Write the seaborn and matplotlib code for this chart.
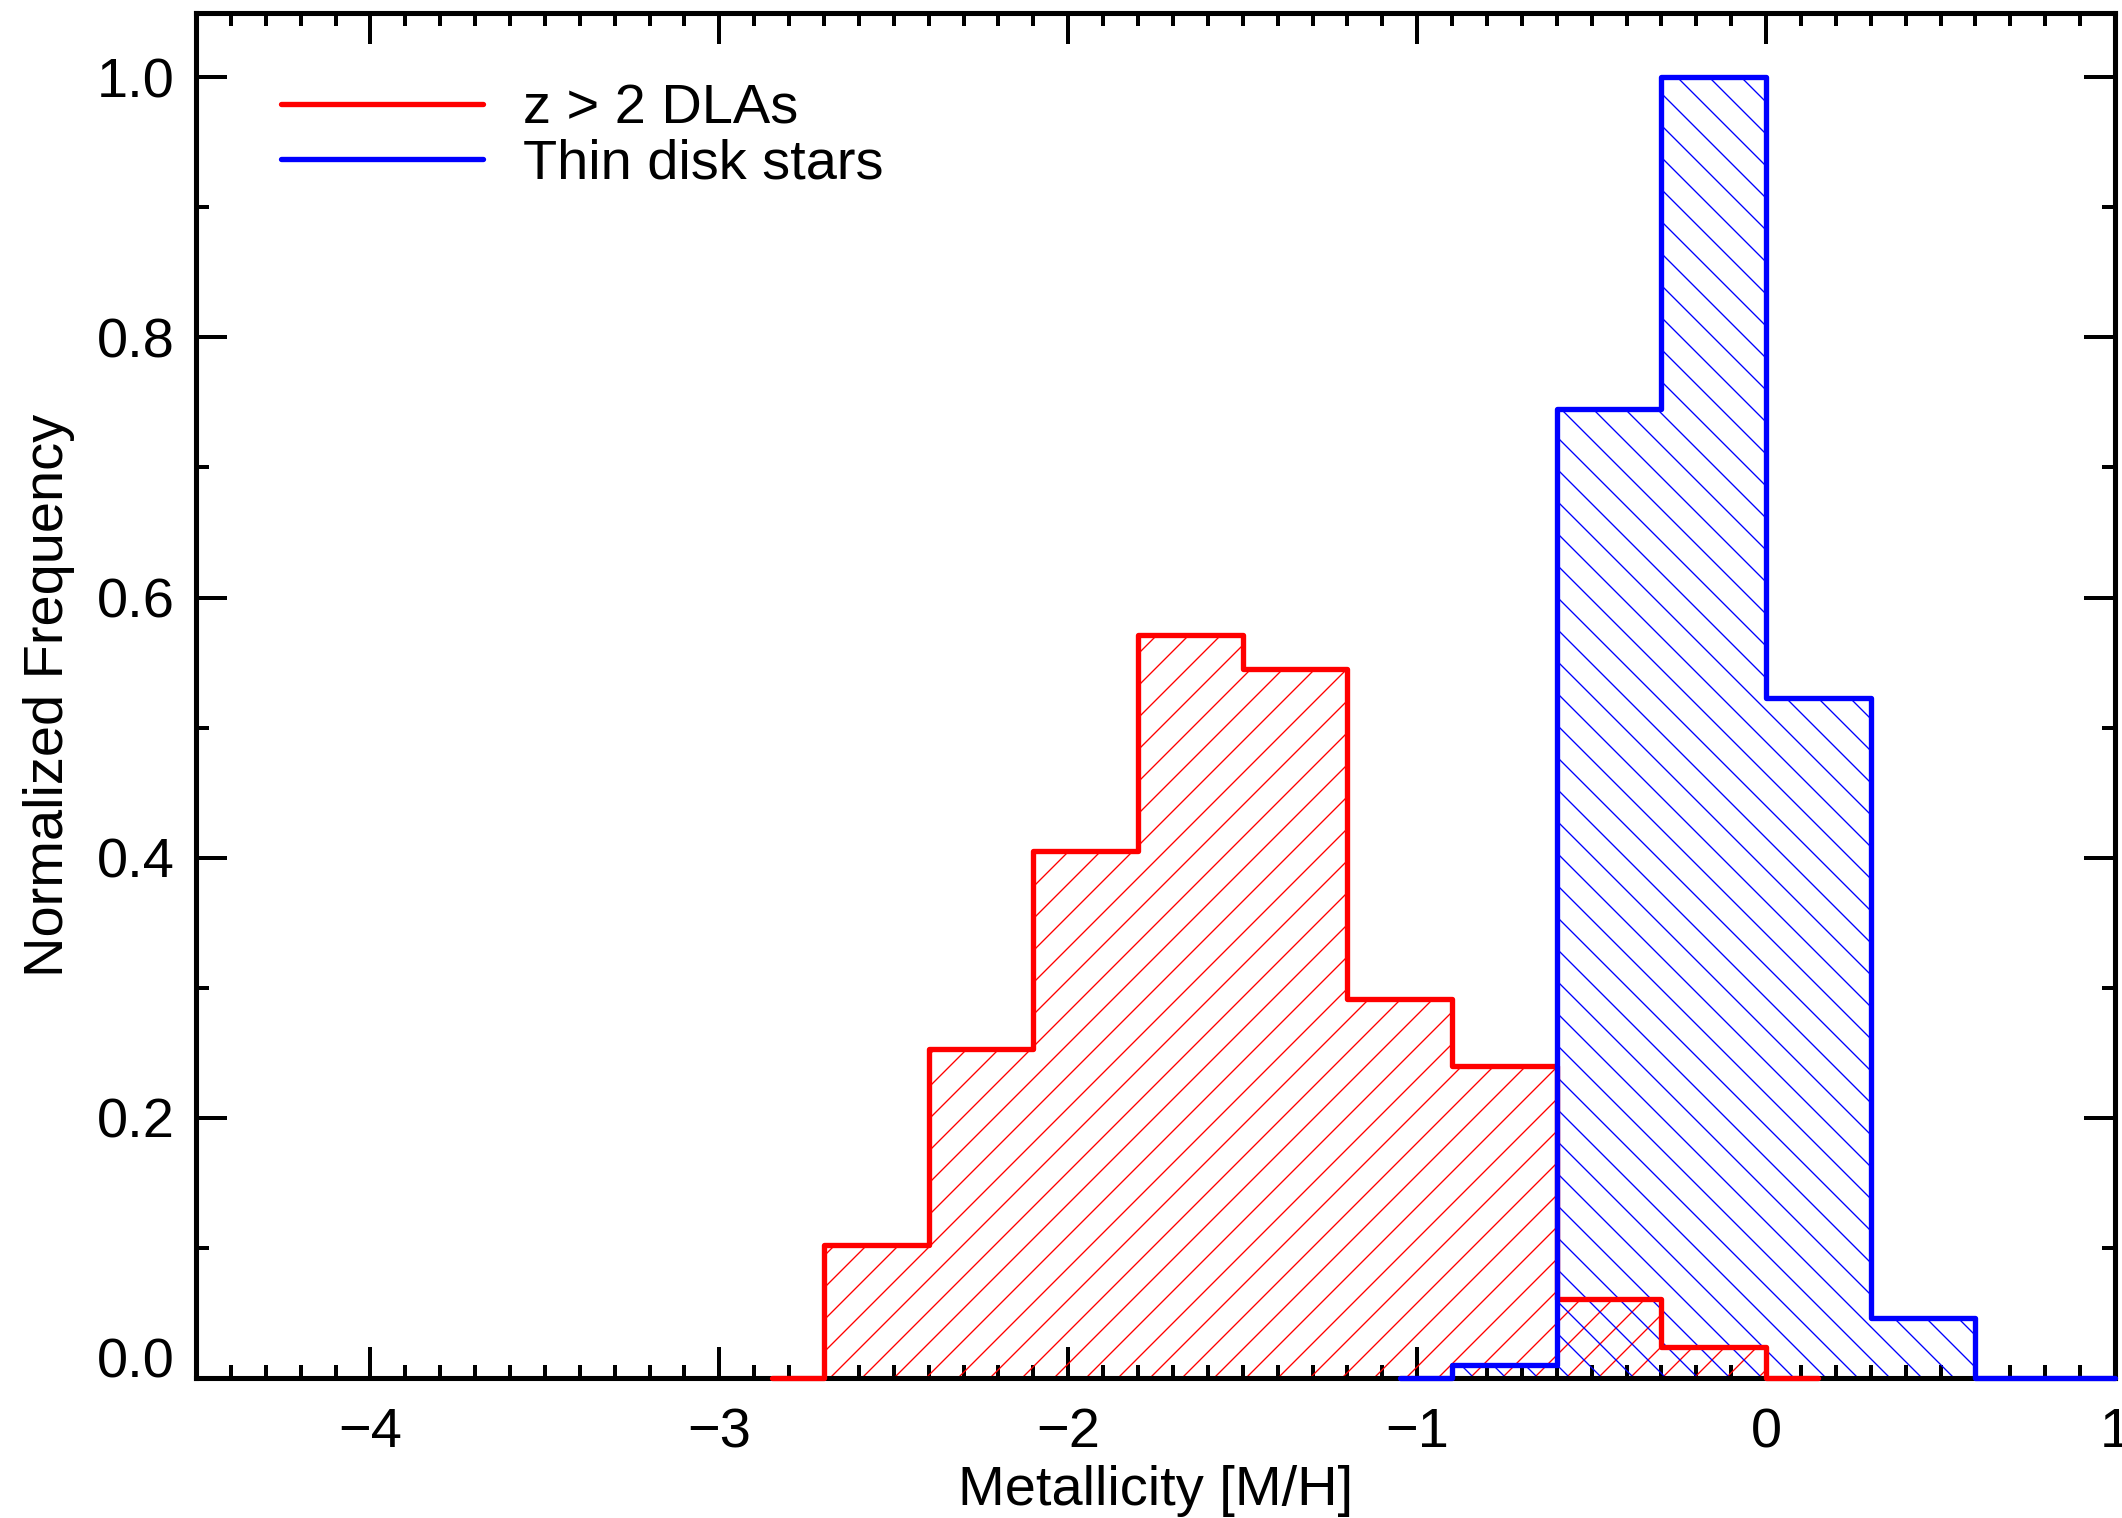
import numpy as np
import pandas as pd
import matplotlib
matplotlib.use("Agg")
import matplotlib.pyplot as plt
import seaborn as sns
from matplotlib.ticker import MultipleLocator

# ---- data ----
dla_edges = [-2.85, -2.7, -2.4, -2.1, -1.8, -1.5, -1.2, -0.9, -0.6, -0.3, 0.0, 0.15]
dla_heights = [0.0, 0.102, 0.253, 0.405, 0.571, 0.545, 0.291, 0.240, 0.061, 0.024, 0.0]
disk_edges = [-1.05, -0.9, -0.6, -0.3, 0.0, 0.3, 0.6, 1.0]
disk_heights = [0.0, 0.010, 0.745, 1.0, 0.523, 0.046, 0.0]

series_names = ["z > 2 DLAs", "Thin disk stars"]
series_colors = ["#ff0000", "#0000ff"]
series_hatches = ["//", "\\\\"]

x_ticks = [-4, -3, -2, -1, 0, 1]
x_ticklabels = ["\u22124", "\u22123", "\u22122", "\u22121", "0", "1"]
y_ticks = [0.0, 0.2, 0.4, 0.6, 0.8, 1.0]
y_ticklabels = ["0.0", "0.2", "0.4", "0.6", "0.8", "1.0"]
x_label = "Metallicity [M/H]"
y_label = "Normalized Frequency"

# ---- style ----
DPI = 192
sns.set_style("ticks")
plt.rcParams["font.family"] = ["Liberation Sans", "DejaVu Sans"]
plt.rcParams["text.color"] = "black"
plt.rcParams["axes.labelcolor"] = "black"
plt.rcParams["hatch.linewidth"] = 0.5
plt.rcParams["axes.linewidth"] = 1.9

W, H = 2122, 1518
fig = plt.figure(figsize=(W / DPI, H / DPI), dpi=DPI)
L, R, T, B = 196, 2115, 13, 1378
ax = fig.add_axes([L / W, 1 - B / H, (R - L) / W, (B - T) / H])

FS = 21


def make_df(edges, heights):
    e = list(edges)
    mids = [(a + b) / 2 for a, b in zip(e[:-1], e[1:])]
    return pd.DataFrame({"x": mids, "w": list(heights)}), e


dfs = [make_df(dla_edges, dla_heights), make_df(disk_edges, disk_heights)]

# hatched fills
for (df, e), c, h in zip(dfs, series_colors, series_hatches):
    sns.histplot(data=df, x="x", weights="w", bins=e, element="step", fill=True,
                 color=c, facecolor="none", edgecolor=c, linewidth=0, hatch=h,
                 ax=ax, zorder=1)

# outlines
for (df, e), c, name in zip(dfs, series_colors, series_names):
    sns.histplot(data=df, x="x", weights="w", bins=e, element="step", fill=False,
                 color=c, linewidth=2.0, ax=ax, label=name, zorder=3, clip_on=False)

ax.set_xlim(-4.5, 1.0)
ax.set_ylim(0.0, 1.0494)

ax.set_xticks(x_ticks)
ax.set_xticklabels(x_ticklabels)
ax.set_yticks(y_ticks)
ax.set_yticklabels(y_ticklabels)
ax.xaxis.set_minor_locator(MultipleLocator(0.1))
ax.yaxis.set_minor_locator(MultipleLocator(0.1))
ax.tick_params(which="both", direction="in", top=True, right=True,
               width=1.5, color="black", labelsize=FS, labelcolor="black")
ax.tick_params(which="major", length=11.5)
ax.tick_params(which="minor", length=5)
ax.tick_params(axis="x", pad=11)
ax.tick_params(axis="y", pad=8)
for lab in ax.get_yticklabels():
    if lab.get_text() == "0.0":
        lab.set_va("baseline")

for s in ax.spines.values():
    s.set_color("black")
    s.set_linewidth(1.9)

ax.set_xlabel(x_label, fontsize=FS, color="black")
ax.set_ylabel(y_label, fontsize=FS, color="black")
ax.xaxis.set_label_coords(0.5, -0.064)
ax.yaxis.set_label_coords(-0.063, 0.5)

leg = ax.legend(loc="upper left", bbox_to_anchor=(0.0443, 0.948), frameon=False,
                fontsize=FS, handlelength=3.6, handletextpad=0.73,
                labelspacing=0.05, borderpad=0, borderaxespad=0)
for t in leg.get_texts():
    t.set_color("black")

fig.savefig("out.png", dpi=DPI)
